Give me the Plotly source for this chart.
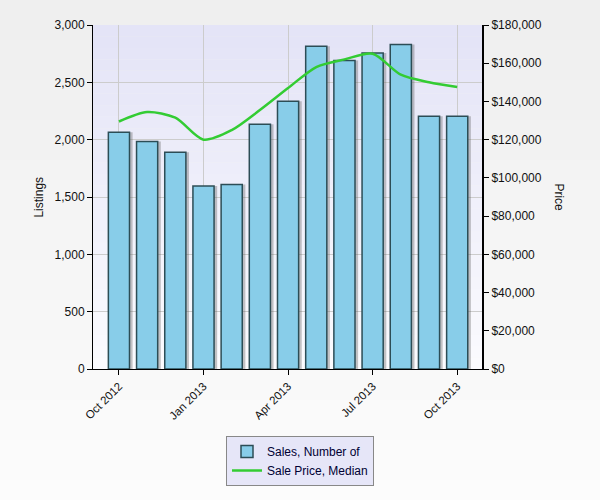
import plotly.graph_objects as go

# Monthly data, Oct 2012 - Oct 2013
months = ['Oct 2012', 'Nov 2012', 'Dec 2012', 'Jan 2013', 'Feb 2013', 'Mar 2013', 'Apr 2013',
          'May 2013', 'Jun 2013', 'Jul 2013', 'Aug 2013', 'Sep 2013', 'Oct 2013']
sales_count = [2065, 1985, 1890, 1595, 1610, 2135, 2335, 2815, 2690, 2755, 2830, 2205, 2205]
median_price = [129500, 134500, 131500, 120000, 125000, 135500, 147000, 158000, 162000, 165000,
                154000, 150000, 147500]
tick_months = ['Oct 2012', 'Jan 2013', 'Apr 2013', 'Jul 2013', 'Oct 2013']

font = 'Liberation Sans'
W, H = 600, 500
L, R, T, B = 93, 118, 25, 131

fig = go.Figure()

# soft drop shadow behind the bars
fig.add_trace(go.Bar(
    x=months, y=sales_count,
    width=0.75, offset=-0.375 + 0.11,
    marker=dict(color='rgba(90,90,90,0.35)', line=dict(width=0)),
    showlegend=False, hoverinfo='skip'
))

fig.add_trace(go.Bar(
    x=months, y=sales_count,
    name='Sales, Number of',
    width=0.75, offset=-0.375,
    marker=dict(color='#88cde9', line=dict(color='#2c4d56', width=1.5))
))

fig.add_trace(go.Scatter(
    x=months, y=median_price,
    name='Sale Price, Median',
    mode='lines',
    line=dict(color='#33cc33', width=2.5, shape='spline', smoothing=0.8),
    yaxis='y2'
))

# background gradients (page light grey -> white, plot area lavender -> white)
shapes = []
pw, ph = W - L - R, H - T - B
px0, px1 = -L / pw, (W - L) / pw
py0, py1 = -B / ph, 1 + T / ph
n = 25
for i in range(n):
    g = int(0xef + (0xfd - 0xef) * i / n)
    shapes.append(dict(type='rect', xref='paper', yref='paper',
                       x0=px0, x1=px1,
                       y0=py1 - (py1 - py0) * (i + 1) / n - 0.002, y1=py1 - (py1 - py0) * i / n,
                       fillcolor=f'rgb({g},{g},{g})', line=dict(width=0), layer='below'))
n = 30
for i in range(n):
    t = i / n
    r = int(0xe4 + (0xfc - 0xe4) * t)
    b = int(0xf7 + (0xff - 0xf7) * t)
    shapes.append(dict(type='rect', xref='x domain', yref='y domain',
                       x0=0, x1=1, y0=1 - (i + 1) / n, y1=1 - i / n,
                       fillcolor=f'rgb({r},{r},{b})', line=dict(width=0), layer='below'))

fig.update_layout(
    width=W, height=H,
    margin=dict(l=L, r=R, t=T, b=B),
    paper_bgcolor='#f5f5f5',
    plot_bgcolor='rgba(0,0,0,0)',
    barmode='overlay',
    font=dict(family=font, size=12, color='#111111'),
    shapes=shapes,
    xaxis=dict(
        type='category',
        range=[-0.92, 12.88],
        tickvals=tick_months,
        ticktext=tick_months,
        tickangle=-45,
        tickfont=dict(size=11.5),
        ticks='outside', ticklen=5, tickcolor='black',
        showline=True, linecolor='black', linewidth=1,
        showgrid=True, gridcolor='#cccccc'
    ),
    yaxis=dict(
        range=[0, 3000], dtick=500, tickformat=',',
        ticks='outside', ticklen=5, tickcolor='black',
        showline=True, linecolor='black', linewidth=1,
        gridcolor='#cccccc', zeroline=False
    ),
    yaxis2=dict(
        range=[0, 180000], dtick=20000, tickformat=',', tickprefix='$',
        overlaying='y', side='right',
        ticks='outside', ticklen=5, tickcolor='black',
        showline=True, linecolor='black', linewidth=2,
        showgrid=False, zeroline=False
    ),
    legend=dict(
        x=(300 - L) / pw, xanchor='center', y=-(486 - (H - B)) / ph, yanchor='bottom',
        bgcolor='#e6e6f8', bordercolor='#888888', borderwidth=1,
        font=dict(size=12, color='#000033'), tracegroupgap=0
    ),
    annotations=[
        dict(text='Listings', xref='paper', yref='paper', x=-0.163, y=0.5,
             textangle=-90, showarrow=False, font=dict(size=12)),
        dict(text='Price', xref='paper', yref='paper', x=1.22, y=0.5,
             textangle=90, showarrow=False, font=dict(size=12)),
    ]
)

# page body has a default margin; drop it so the chart fills the window
fig.write_html('out.html', config={'displayModeBar': False},
               post_script="document.body.style.margin='0';")
